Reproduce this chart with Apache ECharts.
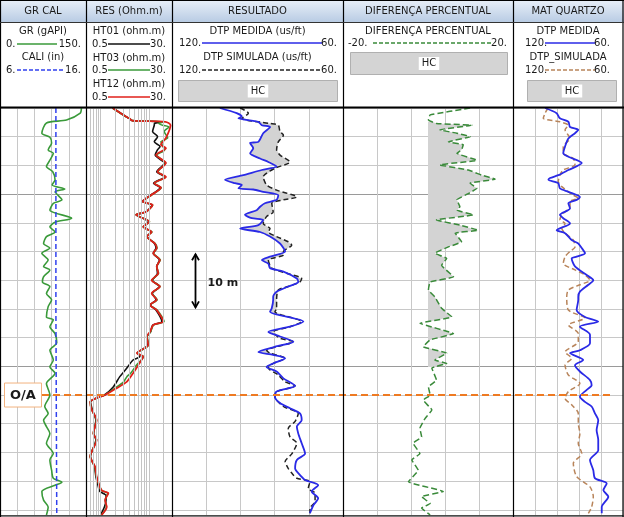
<!DOCTYPE html>
<html><head><meta charset="utf-8">
<script src="https://cdn.jsdelivr.net/npm/echarts@6/dist/echarts.min.js"></script>
<style>html,body{margin:0;padding:0;background:#fff}#c{width:624px;height:517px}</style>
</head><body><div id="c"></div>
<script>
// ---- data: [depth (m, relative), value] ----
const grCurve = [[0,142],[0.9,140],[2.1,116],[2.6,81],[4.4,73],[5.1,87],[6.1,90],[7.3,84],[7.9,93],[9.1,87],[10.2,81],[11.1,92],[12.5,96],[13.4,91],[14.1,113],[14.6,96],[16.0,108],[16.6,93],[17.8,87],[19.2,125],[19.9,96],[20.7,87],[21.6,96],[22.4,81],[23.6,76],[24.4,87],[25.3,73],[26.5,84],[27.6,76],[28.2,87],[29.4,76],[30.3,74],[31.1,87],[32.3,81],[33.4,90],[34.6,84],[36.4,81],[36.9,93],[38.1,87],[39.3,96],[40.9,99],[42.2,87],[43.9,93],[45.1,87],[46.2,96],[48.0,81],[50.0,87],[52.0,78],[53.2,84],[54.4,76],[55.5,81],[56.7,87],[58.4,81],[60.2,93],[61.3,87],[63.1,90],[64.5,93],[65.2,108],[65.7,96],[66.8,73],[68.3,76],[69.5,84],[70.9,81]];
const caliCurve = [[0,12.5],[35,12.5],[70.9,12.6]];
const ht01Curve = [[0,1.78],[1.5,3.35],[1.8,3.9],[2.2,4.5],[2.4,18],[2.7,13],[3.0,12.9],[4.1,11.9],[5.0,15.1],[5.9,12.9],[6.7,17.0],[7.3,15.0],[8.2,13.5],[9.6,21],[11.1,14.5],[12.0,21],[13.1,12.5],[13.9,17.0],[15.2,10.8],[16.3,7.3],[16.9,11.6],[18.1,8.6],[18.6,5.5],[19.8,9.8],[20.7,7.8],[21.6,11.0],[22.4,9.2],[23.6,13.0],[24.4,14.0],[25.3,12.3],[26.5,16.5],[27.6,14.5],[28.8,15.0],[30.0,11.8],[31.1,16.5],[32.3,11.8],[33.4,14.0],[34.3,10.8],[35.2,14.0],[37.2,18.5],[37.8,12.0],[39.0,10.8],[39.8,9.2],[41.3,9.5],[42.7,5.8],[43.3,6.5],[43.9,4.7],[45.3,3.5],[46.8,2.5],[48.6,1.83],[50.0,1.2],[50.5,0.85],[51.2,0.62],[52.6,0.68],[54.4,0.8],[56.7,0.72],[57.8,0.8],[60.7,0.62],[62.5,0.75],[64.2,0.8],[66.0,0.9],[66.8,0.97],[67.5,1.3],[68.3,1.3],[69.5,1.2],[70.9,1.0]];
const ht03Curve = [[0,1.78],[1.5,3.3],[1.8,3.9],[2.2,4.6],[2.4,20],[2.7,16],[3.0,19.2],[3.3,26],[4.1,20.7],[5.2,24.4],[5.9,17.7],[6.7,19.5],[7.3,21],[8.2,14.5],[9.6,22],[11.1,15.5],[12.0,22],[13.1,13.2],[13.9,18.0],[15.2,11.2],[16.3,7.5],[16.9,12.0],[18.1,8.8],[18.6,5.4],[19.8,10.3],[20.7,7.6],[21.6,11.6],[22.4,9.0],[23.6,13.5],[24.4,14.8],[25.3,12.5],[26.5,17.2],[27.6,14.5],[28.8,15.8],[30.0,11.6],[31.1,17.0],[32.3,11.6],[33.4,14.8],[34.3,10.6],[35.2,14.8],[37.2,20.5],[37.8,12.5],[39.0,10.8],[39.8,9.2],[41.3,9.9],[42.7,5.7],[43.3,7.8],[44.8,5.5],[46.2,4.2],[46.8,3.5],[47.7,3.0],[48.8,2.0],[50.0,1.22],[50.5,0.84],[51.2,0.61],[52.6,0.66],[54.4,0.82],[56.7,0.71],[57.8,0.82],[60.7,0.61],[62.5,0.76],[64.2,0.82],[66.6,1.05],[67.1,1.4],[68.3,1.25],[69.5,1.32],[70.9,1.05]];
const ht12Curve = [[0,1.78],[1.5,3.35],[1.8,3.9],[2.2,4.5],[2.4,22],[3.0,28],[5.2,22.5],[6.4,17.7],[7.0,22.5],[8.2,14.0],[9.6,22.5],[11.1,15.1],[12.0,22.5],[13.1,12.9],[13.9,17.7],[15.2,11.0],[16.3,7.4],[16.9,11.9],[18.1,8.7],[18.6,5.4],[19.8,10.2],[20.7,7.6],[21.6,11.4],[22.4,9.0],[23.6,13.3],[24.4,14.5],[25.3,12.3],[26.5,16.9],[27.6,14.5],[28.8,15.6],[30.0,11.4],[31.1,16.9],[32.3,11.4],[33.4,14.5],[34.3,10.5],[35.2,14.5],[37.2,19.8],[37.8,12.3],[39.0,10.5],[39.8,9.0],[41.3,9.7],[42.7,5.6],[43.3,7.6],[44.8,6.0],[46.2,4.7],[47.7,3.47],[48.8,2.15],[50.0,1.24],[50.5,0.83],[51.2,0.61],[52.6,0.66],[54.4,0.83],[56.7,0.71],[57.8,0.83],[60.7,0.61],[62.5,0.77],[64.2,0.83],[66.6,1.05],[67.1,1.45],[68.3,1.24],[69.5,1.34],[70.9,1.05]];
const dtpMedida = [[0,103.2],[0.9,97.3],[1.5,95.5],[1.8,96.7],[2.4,89.7],[3.0,88.5],[3.3,85.6],[4.4,88.0],[5.9,89.7],[6.1,92.6],[7.0,91.5],[7.9,92.6],[8.8,89.1],[9.4,86.2],[10.2,83.3],[10.8,88.5],[11.7,95.0],[12.5,101.4],[13.1,97.9],[13.4,95.5],[14.0,96.7],[14.2,91.5],[14.6,88.0],[15.2,82.7],[16.0,83.3],[16.6,87.4],[17.2,89.1],[17.8,90.3],[18.6,94.4],[19.2,92.0],[19.5,88.0],[20.4,89.7],[21.0,96.1],[21.6,89.1],[22.4,85.6],[23.6,82.1],[24.4,80.9],[25.0,80.3],[25.9,85.6],[26.5,88.5],[27.1,86.2],[27.9,85.6],[28.5,80.9],[29.7,76.2],[30.3,75.7],[31.1,79.2],[32.0,83.3],[32.9,84.5],[33.4,84.5],[34.9,85.0],[35.5,85.6],[37.2,73.9],[38.1,78.6],[39.0,86.2],[39.8,82.1],[40.7,77.4],[41.6,83.9],[42.5,89.7],[43.0,84.5],[43.6,80.3],[44.5,84.5],[45.1,86.8],[45.9,83.3],[47.1,80.9],[48.4,76.8],[49.4,83.3],[50.3,83.9],[51.4,82.1],[52.3,78.6],[53.2,75.1],[54.4,74.5],[55.5,76.2],[56.7,75.7],[58.4,74.5],[60.2,73.3],[61.3,76.2],[62.8,76.8],[63.6,75.7],[64.8,73.3],[65.7,68.7],[66.8,71.0],[68.0,68.7],[69.2,70.4],[70.6,71.6]];
const dtpSimulada = [[0,96.1],[0.9,93.2],[1.8,95.5],[2.7,85.6],[3.0,82.7],[4.1,82.1],[4.7,80.9],[5.9,82.7],[7.3,83.3],[8.2,82.1],[9.4,78.6],[10.5,83.9],[12.0,88.0],[13.4,86.8],[14.3,83.3],[15.5,76.2],[16.0,80.9],[16.6,85.0],[18.1,84.5],[18.9,86.8],[20.1,88.0],[21.0,85.6],[21.6,86.2],[22.4,83.3],[23.3,79.2],[23.9,78.0],[25.0,80.9],[25.6,80.9],[26.5,86.2],[27.9,85.0],[28.8,79.8],[29.7,74.5],[30.3,75.1],[31.1,79.2],[31.7,82.7],[33.4,83.3],[34.9,83.3],[35.5,83.9],[37.2,74.5],[38.1,78.6],[39.0,84.5],[40.1,82.1],[40.7,77.4],[41.6,83.3],[42.2,86.8],[42.7,85.6],[43.6,80.3],[44.5,84.5],[45.3,86.2],[46.5,82.7],[47.7,80.3],[48.4,76.8],[49.4,83.3],[50.3,83.9],[52.0,80.9],[53.2,75.7],[54.6,76.8],[55.8,79.2],[57.3,78.6],[58.4,76.2],[60.2,77.9],[61.6,80.3],[62.8,79.2],[63.6,78.0],[64.5,76.2],[65.1,71.6],[66.3,72.2],[67.1,69.8],[68.6,69.8],[69.7,71.6],[70.6,71.6]];
const difCurve = [[0,9.9],[1.2,0.5],[2.1,0.1],[2.7,2.0],[3.0,10.3],[3.8,2.8],[4.4,6.8],[5.0,9.9],[5.9,4.8],[6.4,8.3],[7.3,7.9],[7.9,6.8],[9.1,11.5],[9.9,2.8],[10.8,9.5],[11.7,12.6],[12.4,15.8],[13.1,9.9],[14.0,11.5],[14.9,9.5],[16.0,6.8],[17.2,7.5],[17.8,6.8],[18.6,10.7],[19.5,2.0],[20.4,7.5],[21.3,11.8],[21.8,6.4],[23.3,7.9],[24.2,4.8],[25.3,1.6],[26.2,4.4],[27.4,3.2],[29.4,6.0],[30.3,0.5],[31.7,0.1],[32.9,1.6],[34.9,3.2],[36.4,5.6],[37.5,-1.9],[39.3,6.0],[40.4,0.5],[41.6,-1.1],[42.7,4.4],[43.9,1.6],[44.5,4.4],[45.3,0.9],[47.4,2.0],[48.6,0.1],[50.0,0.5],[50.9,-1.1],[52.6,0.9],[54.1,-0.7],[55.8,-1.9],[57.3,-1.5],[58.4,-3.5],[60.2,-1.9],[61.3,-3.8],[63.1,-2.3],[65.1,-4.6],[66.8,3.6],[67.7,-1.5],[68.9,0.5],[69.7,-1.5],[70.9,0.5]];
const matMedida = [[0,102.5],[0.9,96.2],[1.8,94.4],[2.4,89.8],[3.3,88.9],[3.8,84.4],[4.4,86.2],[5.3,89.8],[6.7,91.6],[7.9,92.6],[8.5,89.8],[9.6,82.5],[10.8,89.8],[11.7,95.3],[12.2,99.8],[12.5,100.7],[13.1,95.3],[14.0,94.4],[14.6,89.8],[15.5,83.5],[16.0,85.3],[16.6,89.8],[17.5,88.9],[18.6,94.4],[19.2,92.6],[20.1,88.9],[21.3,96.2],[21.8,91.6],[23.0,88.0],[23.6,84.4],[24.4,82.5],[25.3,80.7],[25.9,85.3],[26.2,88.0],[27.6,86.2],[29.1,79.8],[30.0,76.2],[30.8,78.9],[32.0,83.5],[32.9,84.4],[33.4,84.4],[35.2,85.3],[36.4,80.7],[37.2,73.5],[38.1,83.5],[39.5,78.0],[41.0,78.0],[42.2,83.5],[42.7,88.9],[43.9,81.7],[44.8,86.2],[45.9,83.5],[47.4,78.0],[48.3,77.1],[49.1,79.8],[50.3,83.5],[51.2,80.7],[52.0,77.1],[53.2,75.3],[54.4,73.5],[56.1,74.4],[57.8,73.5],[59.6,73.5],[61.3,78.0],[63.1,76.2],[64.5,75.3],[65.4,68.9],[66.6,70.7],[67.7,68.0],[69.5,71.6],[70.6,71.6]];
const matSimulada = [[0,100.9],[0.9,102.5],[1.8,103.5],[2.4,94.4],[3.0,89.8],[3.8,91.6],[5.3,88.9],[6.7,92.6],[7.9,92.6],[8.8,87.1],[9.9,86.2],[10.8,92.6],[11.7,94.4],[12.8,95.3],[13.7,93.4],[15.2,87.1],[15.7,84.4],[16.3,88.9],[17.2,88.9],[18.6,93.4],[19.5,94.4],[20.1,91.6],[21.0,93.4],[21.8,91.6],[23.0,87.1],[24.2,86.2],[25.0,89.0],[25.9,91.6],[27.1,92.6],[28.2,86.2],[29.1,80.7],[30.0,78.0],[30.8,83.5],[31.7,89.8],[32.9,90.7],[35.2,89.8],[36.6,80.7],[37.8,89.8],[39.3,84.4],[40.7,84.4],[42.5,91.6],[43.6,88.0],[44.8,91.6],[46.5,89.8],[48.0,83.5],[49.4,89.8],[50.6,91.6],[51.7,88.0],[53.2,84.4],[54.9,84.4],[56.7,83.5],[58.4,84.4],[60.2,82.5],[61.9,87.1],[64.2,85.3],[66.0,78.0],[67.7,76.2],[69.5,77.1],[70.6,78.9]];
const resGridTicks = [0.6,0.7,0.8,0.9,1,2,3,4,5,6,7,8,9,10,20];
const depthMax = 70.9;
const hcZone = [2.4, 45.1];
const oaDepth = 50.0;
const arrowDepth = [25.3, 34.9];
const arrowPos = 111.8;

// ---- layout ----
const FONT = '"DejaVu Sans", Verdana, sans-serif';
const TOP = 108, BOT = 515;
const trackX = [0, 86, 172, 343, 513, 623];
const GRIDC = '#c8c8c8';

const grids = [], yAxes = [];
for (let i = 0; i < 5; i++) {
  grids.push({left: trackX[i], top: TOP, width: trackX[i+1]-trackX[i], height: BOT-TOP});
  yAxes.push({gridIndex: i, type: 'value', inverse: true, min: 0, max: depthMax, interval: 5,
    axisLabel: {show: false}, axisLine: {show: false}, axisTick: {show: false},
    splitLine: {show: true, lineStyle: {width: 1, color: [GRIDC, GRIDC, GRIDC, '#9a9a9a', GRIDC, GRIDC]}}});
}
function xa(o) {
  return Object.assign({type: 'value', axisLabel: {show: false}, axisLine: {show: false}, axisTick: {show: false},
    splitLine: {show: false, lineStyle: {color: GRIDC, width: 1}}}, o);
}
const xAxes = [
  xa({gridIndex: 0, min: 0, max: 150, interval: 30, splitLine: {show: true, lineStyle: {color: GRIDC}}}), // 0 GR
  xa({gridIndex: 0, min: 6, max: 16}),                                                                        // 1 CALI
  xa({gridIndex: 1, type: 'log', logBase: 10, min: 0.5, max: 30}),                                            // 2 RES
  xa({gridIndex: 2, min: 60, max: 120, interval: 12, inverse: true, splitLine: {show: true, lineStyle: {color: GRIDC}}}), // 3 DTP
  xa({gridIndex: 3, min: -20, max: 20}),                                                                      // 4 DIF
  xa({gridIndex: 3, min: 0, max: 40, interval: 8, splitLine: {show: true, lineStyle: {color: GRIDC}}}),      // 5 DIF grid
  xa({gridIndex: 4, min: 60, max: 120, interval: 12, inverse: true, splitLine: {show: true, lineStyle: {color: GRIDC}}})  // 6 MAT
];

function toXY(c) { return c.map(p => [p[1], p[0]]); }
function lineSeries(name, curve, xi, yi, color, width, dash, smooth) {
  return {name, type: 'line', xAxisIndex: xi, yAxisIndex: yi, data: toXY(curve), showSymbol: false,
    symbol: 'none', animation: false, z: 3, silent: true, smooth: smooth === undefined ? 0.25 : smooth,
    lineStyle: {color, width, type: dash || 'solid', join: 'round'}};
}
function interp(curve, d) {
  if (d <= curve[0][0]) return curve[0][1];
  for (let i = 1; i < curve.length; i++) {
    if (d <= curve[i][0]) {
      const d0 = curve[i-1][0], v0 = curve[i-1][1], d1 = curve[i][0], v1 = curve[i][1];
      return v0 + (v1 - v0) * (d - d0) / (d1 - d0);
    }
  }
  return curve[curve.length-1][1];
}
function fillSeries(xi, yi, leftFn, rightFn) {
  return {type: 'custom', xAxisIndex: xi, yAxisIndex: yi, silent: true, z: 2, animation: false,
    data: [[90, 20]],
    renderItem: function (params, api) {
      const right = [], left = [];
      for (let d = hcZone[0]; d <= hcZone[1] + 1e-9; d += 0.05) {
        const a = api.coord([leftFn(d), d]), b = api.coord([rightFn(d), d]);
        right.push([Math.max(a[0], b[0]), a[1]]);
        left.push([a[0], a[1]]);
      }
      return {type: 'polygon', shape: {points: right.concat(left.reverse())}, style: {fill: '#d3d3d3', stroke: null}};
    }};
}

const series = [
  {type: 'line', xAxisIndex: 2, yAxisIndex: 1, data: [[1, -10]], showSymbol: false, lineStyle: {opacity: 0}, z: 1, silent: true,
    markLine: {silent: true, symbol: ['none', 'none'], label: {show: false}, animation: false,
      lineStyle: {color: '#c4c4c4', type: 'solid', width: 1},
      data: resGridTicks.map(v => ({xAxis: v}))}},
  lineSeries('GR', grCurve, 0, 0, '#3a9a3a', 1.6),
  lineSeries('CALI', caliCurve, 1, 0, '#3040ee', 1.5, [5, 3], 0),
  lineSeries('HT01', ht01Curve, 2, 1, '#111111', 1.6),
  lineSeries('HT03', ht03Curve, 2, 1, '#3a9a3a', 1.6),
  lineSeries('HT12', ht12Curve, 2, 1, '#e0201a', 1.8),
  fillSeries(3, 2, d => interp(dtpMedida, d), d => interp(dtpSimulada, d)),
  lineSeries('DTP SIMULADA', dtpSimulada, 3, 2, '#222222', 1.5, [5, 3]),
  lineSeries('DTP MEDIDA', dtpMedida, 3, 2, '#2a2ae6', 1.8),
  fillSeries(4, 3, d => 0, d => interp(difCurve, d)),
  lineSeries('DIFERENÇA PERCENTUAL', difCurve, 4, 3, '#3a8a3a', 1.5, [6, 3], 0.1),
  lineSeries('DTP_SIMULADA', matSimulada, 6, 4, '#b8845a', 1.5, [5, 3]),
  lineSeries('DTP MEDIDA Q', matMedida, 6, 4, '#2a2ae6', 1.8)
];

const chart = echarts.init(document.getElementById('c'), null, {renderer: 'canvas', width: 624, height: 517});
chart.setOption({animation: false, backgroundColor: '#ffffff', grid: grids, xAxis: xAxes, yAxis: yAxes, series});

// ---- header & annotations ----
const G = [];
function txt(x, y, s, align, font, extra) {
  G.push(Object.assign({type: 'text', x, y, z: 20,
    style: {text: s, align: align || 'center', verticalAlign: 'middle', font: font || ('10px ' + FONT), fill: '#1a1a1a'}}, extra || {}));
}
function ln(x1, y1, x2, y2, color, w, dash, z) {
  G.push({type: 'line', z: z || 20, shape: {x1, y1, x2, y2}, style: {stroke: color, lineWidth: w, lineDash: dash || null}});
}
function hcBox(x, y, w, h) {
  G.push({type: 'rect', z: 18, shape: {x, y, width: w, height: h}, style: {fill: '#d4d4d4', stroke: '#b0b0b0', lineWidth: 1}});
  G.push({type: 'text', x: x + w / 2, y: y + h / 2, z: 20,
    style: {text: 'HC', align: 'center', verticalAlign: 'middle', font: '10px ' + FONT, fill: '#1a1a1a',
      backgroundColor: '#ffffff', padding: [2, 3, 1, 3]}});
}
// title row
G.push({type: 'rect', z: 5, shape: {x: 0, y: 0, width: 624, height: 22},
  style: {fill: {type: 'linear', x: 0, y: 0, x2: 0, y2: 1, colorStops: [{offset: 0, color: '#e8eff8'}, {offset: 1, color: '#b9cce4'}]}}});
const titles = ['GR CAL', 'RES (Ohm.m)', 'RESULTADO', 'DIFERENÇA PERCENTUAL', 'MAT QUARTZO'];
titles.forEach((t, i) => txt((trackX[i] + trackX[i+1]) / 2, 11.5, t));
// track 1
txt(43, 31, 'GR (gAPI)'); txt(6, 44, '0.', 'left'); ln(17, 44, 57, 44, '#3a9a3a', 1.5); txt(81, 44, '150.', 'right');
txt(43, 57, 'CALI (in)'); txt(6, 70, '6.', 'left'); ln(17, 70, 63, 70, '#3040ee', 1.5, [4, 2]); txt(81, 70, '16.', 'right');
// track 2
txt(129, 31, 'HT01 (ohm.m)'); txt(92, 44, '0.5', 'left'); ln(108, 44, 150, 44, '#111', 1.5); txt(166, 44, '30.', 'right');
txt(129, 58, 'HT03 (ohm.m)'); txt(92, 70, '0.5', 'left'); ln(108, 70, 150, 70, '#3a9a3a', 1.5); txt(166, 70, '30.', 'right');
txt(129, 84, 'HT12 (ohm.m)'); txt(92, 97, '0.5', 'left'); ln(108, 97, 150, 97, '#e0201a', 1.5); txt(166, 97, '30.', 'right');
// track 3
txt(257.5, 31, 'DTP MEDIDA (us/ft)'); txt(179, 43, '120.', 'left'); ln(202, 43, 322, 43, '#2a2ae6', 1.5); txt(337, 43, '60.', 'right');
txt(257.5, 57, 'DTP SIMULADA (us/ft)'); txt(179, 70, '120.', 'left'); ln(202, 70, 322, 70, '#222', 1.3, [4, 2]); txt(337, 70, '60.', 'right');
hcBox(178.5, 80.5, 159, 21);
// track 4
txt(428, 31, 'DIFERENÇA PERCENTUAL'); txt(348, 43, '-20.', 'left'); ln(373, 43, 492, 43, '#3a8a3a', 1.3, [4, 2]); txt(507, 43, '20.', 'right');
hcBox(350.5, 52.5, 157, 22);
// track 5
txt(568, 31, 'DTP MEDIDA'); txt(525, 43, '120.', 'left'); ln(545, 43, 595, 43, '#2a2ae6', 1.5); txt(610, 43, '60.', 'right');
txt(568, 57, 'DTP_SIMULADA'); txt(525, 70, '120.', 'left'); ln(545, 70, 595, 70, '#b8845a', 1.3, [4, 2]); txt(610, 70, '60.', 'right');
hcBox(527.5, 80.5, 89, 21);
// borders
trackX.forEach(x => ln(x === 623 ? 623 : x + 0.5, 0, x === 623 ? 623 : x + 0.5, 517, '#000', 1.2, null, 50));
ln(0, 22.5, 624, 22.5, '#333', 1, null, 50);
ln(0, 107.5, 624, 107.5, '#000', 2, null, 50);
ln(0, 516, 624, 516, '#000', 1.2, null, 50);
ln(0, 0.5, 624, 0.5, '#000', 1, null, 50);

// annotations placed through the axes
const yOA = chart.convertToPixel({yAxisIndex: 0}, oaDepth);
const yA1 = chart.convertToPixel({yAxisIndex: 2}, arrowDepth[0]);
const yA2 = chart.convertToPixel({yAxisIndex: 2}, arrowDepth[1]);
const xA = Math.round(chart.convertToPixel({xAxisIndex: 3}, arrowPos)) + 0.5;
ln(42, yOA, 613, yOA, '#ee7a22', 2, [7, 4], 30);
G.push({type: 'rect', z: 30, shape: {x: 4.5, y: yOA - 12, width: 37, height: 24}, style: {fill: '#ffffff', stroke: '#f2b27f', lineWidth: 1}});
txt(23, yOA + 0.5, 'O/A', 'center', 'bold 13px ' + FONT, {z: 31});
ln(xA, yA1 + 1, xA, yA2 - 1, '#000', 1.8, null, 30);
G.push({type: 'polyline', z: 30, shape: {points: [[xA - 3.5, yA1 + 7], [xA, yA1 + 1], [xA + 3.5, yA1 + 7]]}, style: {stroke: '#000', lineWidth: 1.8, fill: null}});
G.push({type: 'polyline', z: 30, shape: {points: [[xA - 3.5, yA2 - 7], [xA, yA2 - 1], [xA + 3.5, yA2 - 7]]}, style: {stroke: '#000', lineWidth: 1.8, fill: null}});
txt(xA + 12, (yA1 + yA2) / 2 + 2, '10 m', 'left', 'bold 11px ' + FONT, {z: 31});

chart.setOption({graphic: {elements: G}});
</script></body></html>
